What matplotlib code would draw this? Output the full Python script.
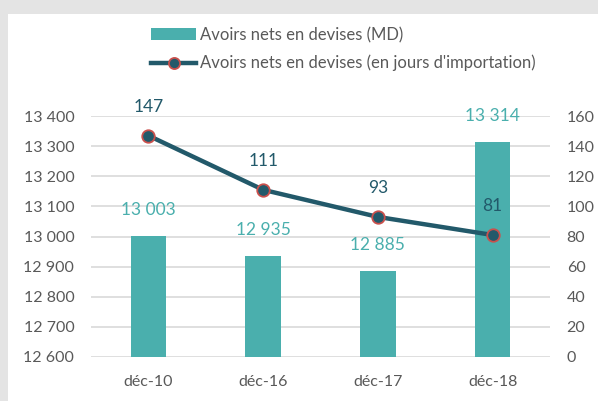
import matplotlib
matplotlib.use("Agg")
import matplotlib.pyplot as plt
from matplotlib.lines import Line2D
from matplotlib.patches import Patch, Rectangle
from matplotlib.ticker import FuncFormatter

# data
categories = ["déc-10", "déc-16", "déc-17", "déc-18"]
avoirs_md = [13003, 12935, 12885, 13314]
avoirs_jours = [147, 111, 93, 81]

bar_color = "#4AAFAD"
line_color = "#22596A"
edge_red = "#C9504C"
text_gray = "#595959"

plt.rcParams["font.family"] = ["Lato", "DejaVu Sans"]

def fmt_space(v, pos=None):
    return f"{int(round(v)):,}".replace(",", " ")

fig = plt.figure(figsize=(5.98, 4.01), dpi=100)
fig.patch.set_facecolor("#E4E4E4")
# white panel
fig.add_artist(Rectangle((8 / 598, 0), 1, 1 - 14 / 401, transform=fig.transFigure,
                         facecolor="white", edgecolor="none", zorder=0))

ax = fig.add_axes([91 / 598, 1 - 357 / 401, 459 / 598, 241 / 401])
ax.patch.set_alpha(0)
x = list(range(len(categories)))
ax.bar(x, [v - 12600 for v in avoirs_md], bottom=12600, width=0.31, color=bar_color, zorder=2)
ax.set_ylim(12600, 13400)
ax.set_xlim(-0.5, 3.5)
ax.set_yticks(range(12600, 13401, 100))
ax.yaxis.set_major_formatter(FuncFormatter(fmt_space))
ax.grid(axis="y", color="#D9D9D9", linewidth=1.2, zorder=0)
ax.set_axisbelow(True)
ax.set_xticks(x)
ax.set_xticklabels(categories)
for s in ax.spines.values():
    s.set_visible(False)
ax.tick_params(length=0, labelsize=11.5, colors=text_gray, pad=12)
ax.tick_params(axis="x", pad=13)

for xi, v in zip(x, avoirs_md):
    ax.annotate(fmt_space(v), (xi, v), xytext=(0, 13), textcoords="offset points",
                ha="center", va="bottom", color=bar_color, fontsize=12.5)

ax2 = ax.twinx()
ax2.plot(x, avoirs_jours, color=line_color, linewidth=3.2, marker="o", markersize=9,
         markerfacecolor=line_color, markeredgecolor=edge_red, markeredgewidth=1.3, zorder=3)
ax2.set_ylim(0, 160)
ax2.set_yticks(range(0, 161, 20))
for s in ax2.spines.values():
    s.set_visible(False)
ax2.tick_params(length=0, labelsize=11.5, colors=text_gray, pad=12)

for xi, v in zip(x, avoirs_jours):
    ax2.annotate(str(v), (xi, v), xytext=(0, 15), textcoords="offset points",
                 ha="center", va="bottom", color=line_color, fontsize=12.5)

handles = [Patch(facecolor=bar_color, edgecolor="none"),
           Line2D([0], [0], color=line_color, linewidth=3.2, marker="o", markersize=8,
                  markerfacecolor=line_color, markeredgecolor=edge_red, markeredgewidth=1.3)]
labels = ["Avoirs nets en devises (MD)", "Avoirs nets en devises (en jours d'importation)"]
fig.legend(handles, labels, loc="upper left", bbox_to_anchor=(151 / 598, 1 - 27 / 401),
           frameon=False, fontsize=12, handlelength=2.7, handletextpad=0.25,
           labelspacing=0.7, labelcolor=text_gray, borderpad=0, borderaxespad=0)

fig.savefig("out.png", dpi=100, facecolor=fig.get_facecolor())
